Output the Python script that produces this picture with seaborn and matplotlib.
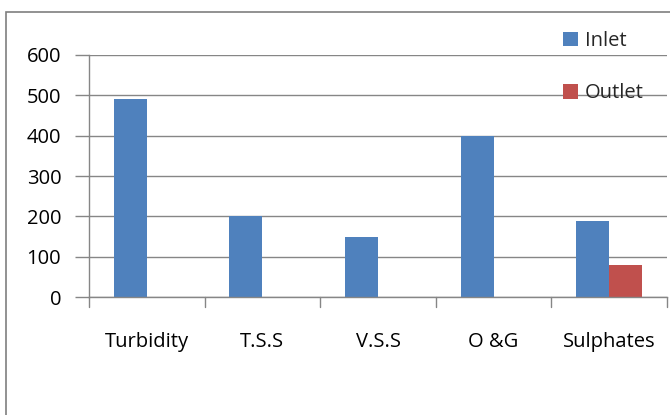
import matplotlib
matplotlib.use("Agg")
import matplotlib.pyplot as plt
import seaborn as sns
import pandas as pd
from matplotlib.patches import Rectangle

categories = ["Turbidity", "T.S.S", "V.S.S", "O &G", "Sulphates"]
inlet = [490, 200, 150, 400, 188]
outlet = [0, 0, 0, 0, 80]
series_names = ["Inlet", "Outlet"]
y_ticks = [0, 100, 200, 300, 400, 500, 600]

df = pd.DataFrame({
    "Parameter": categories * 2,
    "Series": [series_names[0]] * len(categories) + [series_names[1]] * len(categories),
    "Value": inlet + outlet,
})

sns.set_theme(style="white")
plt.rcParams["font.family"] = ["Open Sans", "DejaVu Sans"]

grid_gray = "#868686"
fs = 14.5
fig = plt.figure(figsize=(6.7, 4.15), dpi=100)
ax = fig.add_axes([89 / 670, 1 - 297 / 415, (667 - 89) / 670, (297 - 55) / 415])

sns.barplot(data=df, x="Parameter", y="Value", hue="Series",
            palette=["#4F81BD", "#C0504D"], width=0.57, gap=0,
            linewidth=0, saturation=1, ax=ax, legend=True)

ax.set_ylim(0, 600)
ax.set_xlim(-0.5, len(categories) - 0.5)
ax.set_yticks(y_ticks)
ax.set_xlabel("")
ax.set_ylabel("")
ax.yaxis.grid(True, color=grid_gray, linewidth=1.0)
ax.set_axisbelow(True)

# category separators on the x axis
ax.set_xticks([i for i in range(len(categories))])
ax.set_xticklabels(categories)
for i in range(len(categories) + 1):
    ax.plot([i - 0.5, i - 0.5], [0, -0.041], transform=ax.get_xaxis_transform(),
            color=grid_gray, linewidth=1.0, clip_on=False)
ax.tick_params(axis="x", length=0, pad=25, labelsize=fs, colors="black")
ax.tick_params(axis="y", length=10, width=1.0, color=grid_gray, pad=10,
               labelsize=fs, colors="black", left=True)

for side in ["top", "right"]:
    ax.spines[side].set_visible(False)
ax.spines["left"].set_color(grid_gray)
ax.spines["bottom"].set_color(grid_gray)
ax.spines["left"].set_linewidth(1.0)
ax.spines["bottom"].set_linewidth(1.0)

handles, labels = ax.get_legend_handles_labels()
ax.legend(handles, labels, loc="upper left", bbox_to_anchor=(563 / 670, 1 - 31 / 415),
          bbox_transform=fig.transFigure, frameon=False, fontsize=fs,
          handlelength=0.75, handleheight=0.75, handletextpad=0.35,
          labelspacing=1.6, borderaxespad=0, borderpad=0)

# outer chart frame
fig.patches.append(Rectangle((6 / 670, -0.1), 1.2, 1 - 12 / 415 + 0.1,
                             transform=fig.transFigure, fill=False,
                             edgecolor="#7f7f7f", linewidth=1.2))

fig.savefig("out.png", dpi=100)
